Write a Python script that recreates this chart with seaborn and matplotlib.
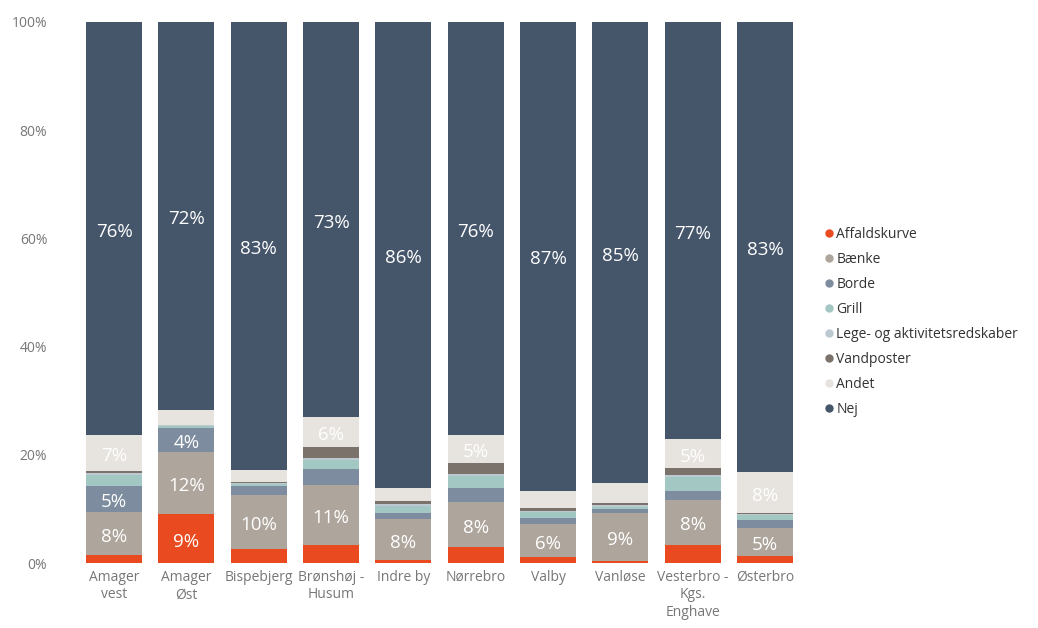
import matplotlib
matplotlib.use("Agg")
import matplotlib.pyplot as plt
from matplotlib.lines import Line2D
import numpy as np
import pandas as pd
import seaborn as sns

categories = ["Amager\nvest", "Amager\nØst", "Bispebjerg", "Brønshøj -\nHusum", "Indre by",
              "Nørrebro", "Valby", "Vanløse", "Vesterbro -\nKgs.\nEnghave", "Østerbro"]
series = ["Affaldskurve", "Bænke", "Borde", "Grill", "Lege- og aktivitetsredskaber",
          "Vandposter", "Andet", "Nej"]

affaldskurve = [1.5, 9.0, 2.6, 3.3, 0.6, 2.9, 1.1, 0.3, 3.4, 1.3]
baenke       = [7.9, 11.6, 9.9, 11.1, 7.5, 8.3, 6.2, 9.0, 8.3, 5.1]
borde        = [4.8, 4.4, 1.8, 3.0, 1.2, 2.6, 1.0, 0.6, 1.7, 1.6]
grill        = [2.1, 0.3, 0.3, 1.7, 1.3, 2.3, 1.1, 0.5, 2.5, 0.8]
lege         = [0.3, 0.3, 0.2, 0.3, 0.3, 0.3, 0.3, 0.3, 0.3, 0.2]
vandposter   = [0.4, 0.0, 0.1, 2.0, 0.5, 2.0, 0.4, 0.3, 1.4, 0.2]
andet        = [6.7, 2.7, 2.2, 5.6, 2.4, 5.3, 3.3, 3.8, 5.3, 7.6]
nej          = [76.3, 71.7, 82.9, 73.0, 86.2, 76.3, 86.6, 85.2, 77.1, 83.2]

colors = ["#EA4A1F", "#AEA59C", "#7D8C9F", "#A3C7C3", "#BCC9D0", "#7A726B", "#E7E3DF", "#45556A"]

values = np.array([affaldskurve, baenke, borde, grill, lege, vandposter, andet, nej])
cum = np.cumsum(values, axis=0)

sns.set_theme(style="white")
plt.rcParams["font.family"] = ["Open Sans", "DejaVu Sans"]

fig = plt.figure(figsize=(10.38, 6.28), dpi=100)
ax = fig.add_axes([0.075, 0.1035, 0.697, 0.8615])

# draw cumulative bars from top layer down so they stack visually
for i in range(len(series) - 1, -1, -1):
    df = pd.DataFrame({"cat": categories, "val": cum[i]})
    sns.barplot(data=df, x="cat", y="val", order=categories, color=colors[i],
                saturation=1, width=0.774, ax=ax, linewidth=0)

# data labels
for i in range(len(series)):
    for j in range(len(categories)):
        v = values[i, j]
        if v >= 4.3:
            mid = cum[i, j] - v / 2
            ax.text(j, mid - 0.6, f"{int(np.floor(v + 0.5))}%", ha="center", va="center",
                    color="white", fontsize=13.5)

ax.set_xlim(-0.5, len(categories) - 0.5)
ax.set_ylim(0, 100)
ax.set_yticks([0, 20, 40, 60, 80, 100])
ax.set_yticklabels(["0%", "20%", "40%", "60%", "80%", "100%"])
ax.set_xlabel("")
ax.set_ylabel("")
ax.tick_params(axis="both", length=0, labelsize=10, colors="#777777")
ax.tick_params(axis="y", pad=22)
ax.tick_params(axis="x", pad=5)
for lbl in ax.get_xticklabels():
    lbl.set_linespacing(1.22)
for s in ax.spines.values():
    s.set_visible(False)
ax.grid(False)

handles = [Line2D([0], [0], marker="o", linestyle="", markersize=5,
                  markerfacecolor=c, markeredgecolor=c) for c in colors]
leg = fig.legend(handles, series, loc="upper left", bbox_to_anchor=(0.787, 0.648),
                 frameon=False, fontsize=10, handletextpad=0.0, labelspacing=0.72,
                 handlelength=1.0, borderaxespad=0)
for t in leg.get_texts():
    t.set_color("#333333")

fig.savefig("out.png", dpi=100)
